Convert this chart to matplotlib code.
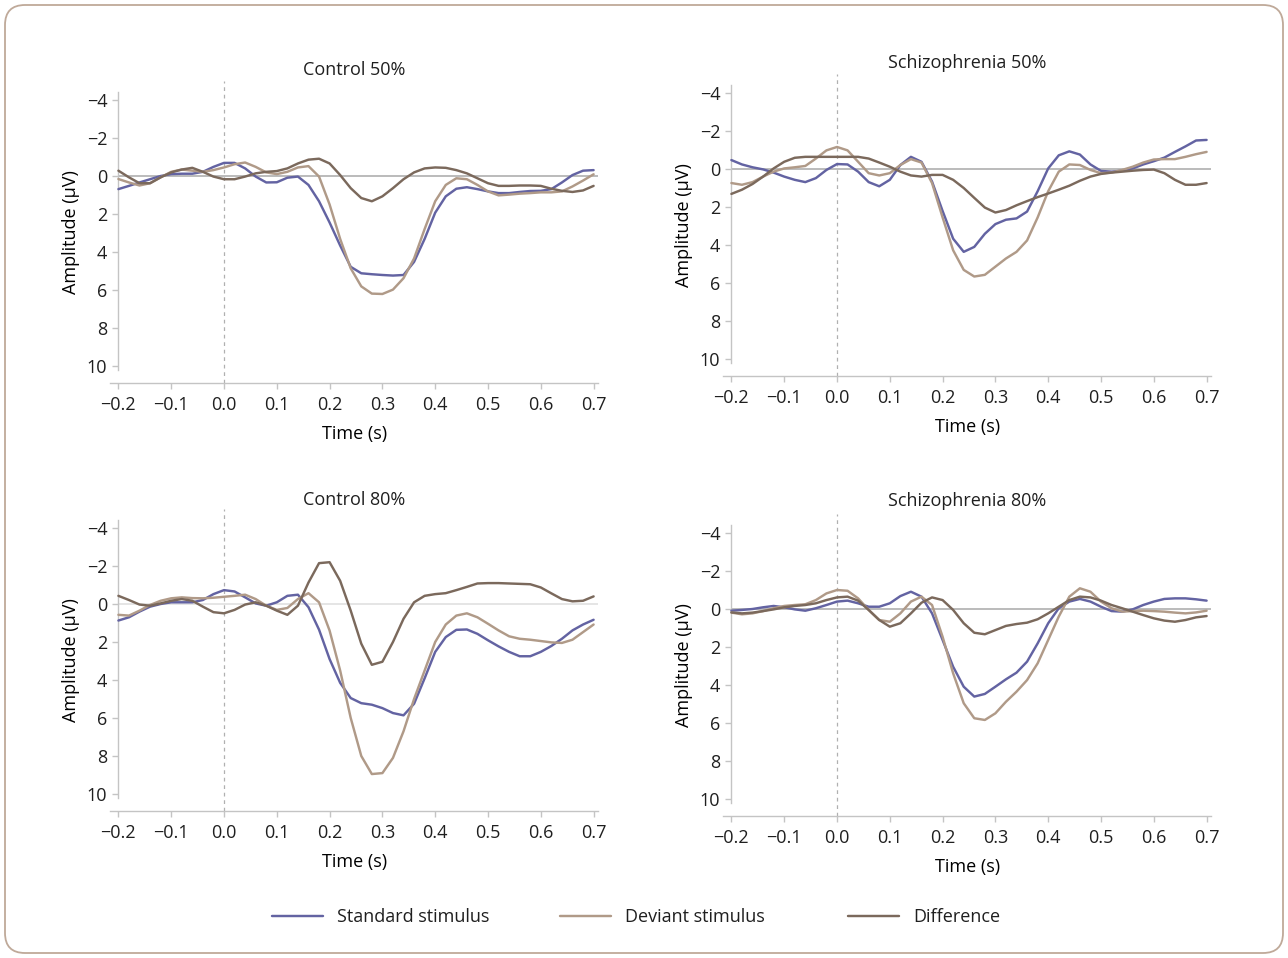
import numpy as np
import matplotlib
matplotlib.use("Agg")
import matplotlib.pyplot as plt
from matplotlib.patches import FancyBboxPatch

plt.rcParams['font.family'] = ['Open Sans', 'DejaVu Sans']
plt.rcParams['font.size'] = 13
plt.rcParams['text.color'] = '#1f1f1f'

# time axis, sampled every 20 ms
t = np.round(np.arange(-0.2, 0.7001, 0.02), 2)

series_names = ['Standard stimulus', 'Deviant stimulus', 'Difference']
colors = ['#6363a2', '#b09a88', '#7b695c']

# Control 50%
ctrl50_std = [0.69, 0.52, 0.34, 0.17, 0.0, -0.1, -0.12, -0.12, -0.22, -0.48,
              -0.69, -0.69, -0.4, 0.03, 0.34, 0.33, 0.09, 0.03, 0.47, 1.33,
              2.45, 3.66, 4.78, 5.12, 5.17, 5.21, 5.24, 5.21, 4.52, 3.31,
              1.93, 1.07, 0.67, 0.59, 0.69, 0.81, 0.9, 0.9, 0.84, 0.79,
              0.78, 0.69, 0.34, -0.05, -0.28, -0.31]
ctrl50_dev = [0.16, 0.34, 0.5, 0.38, 0.07, -0.22, -0.34, -0.28, -0.22, -0.31,
              -0.45, -0.62, -0.71, -0.48, -0.19, -0.1, -0.22, -0.45, -0.52, 0.03,
              1.5, 3.31, 4.86, 5.81, 6.19, 6.21, 5.98, 5.38, 4.34, 2.79,
              1.33, 0.47, 0.12, 0.17, 0.47, 0.81, 1.02, 0.98, 0.93, 0.9,
              0.86, 0.86, 0.81, 0.55, 0.24, -0.09]
ctrl50_diff = [-0.28, 0.07, 0.38, 0.38, 0.07, -0.19, -0.34, -0.43, -0.22, 0.03,
               0.17, 0.17, 0.03, -0.14, -0.22, -0.26, -0.4, -0.66, -0.86, -0.91,
               -0.66, -0.05, 0.64, 1.16, 1.33, 1.07, 0.64, 0.17, -0.19, -0.4,
               -0.45, -0.43, -0.31, -0.14, 0.12, 0.38, 0.52, 0.52, 0.5, 0.5,
               0.52, 0.67, 0.78, 0.84, 0.76, 0.52]

# Schizophrenia 50%
scz50_std = [-0.47, -0.24, -0.09, 0.02, 0.19, 0.4, 0.57, 0.69, 0.48, 0.05,
             -0.26, -0.24, 0.14, 0.69, 0.91, 0.57, -0.21, -0.64, -0.38, 0.66,
             2.21, 3.67, 4.36, 4.1, 3.41, 2.9, 2.67, 2.6, 2.24, 1.17,
             -0.03, -0.72, -0.93, -0.76, -0.24, 0.1, 0.14, 0.09, -0.03, -0.24,
             -0.41, -0.6, -0.9, -1.19, -1.5, -1.53]
scz50_dev = [0.74, 0.83, 0.69, 0.4, 0.14, -0.03, -0.09, -0.16, -0.55, -0.98,
             -1.16, -0.98, -0.38, 0.22, 0.34, 0.22, -0.21, -0.52, -0.34, 0.74,
             2.55, 4.28, 5.31, 5.66, 5.57, 5.14, 4.71, 4.36, 3.76, 2.55,
             1.17, 0.14, -0.24, -0.21, 0.05, 0.22, 0.19, 0.05, -0.12, -0.34,
             -0.5, -0.52, -0.52, -0.64, -0.78, -0.9]
scz50_diff = [1.31, 1.09, 0.79, 0.4, -0.03, -0.38, -0.59, -0.64, -0.64, -0.64,
              -0.64, -0.64, -0.64, -0.55, -0.34, -0.12, 0.14, 0.34, 0.4, 0.31,
              0.31, 0.57, 1.0, 1.52, 2.03, 2.29, 2.16, 1.91, 1.69, 1.48,
              1.29, 1.09, 0.88, 0.62, 0.4, 0.26, 0.19, 0.14, 0.09, 0.05,
              0.03, 0.22, 0.57, 0.83, 0.83, 0.74]

# Control 80%
ctrl80_std = [0.87, 0.7, 0.4, 0.14, 0.0, -0.09, -0.09, -0.09, -0.21, -0.52,
              -0.73, -0.66, -0.35, -0.03, 0.09, -0.09, -0.43, -0.49, 0.17, 1.35,
              2.9, 4.15, 4.95, 5.22, 5.3, 5.48, 5.74, 5.86, 5.25, 3.91,
              2.52, 1.74, 1.36, 1.34, 1.57, 1.91, 2.23, 2.52, 2.75, 2.75,
              2.52, 2.21, 1.83, 1.39, 1.08, 0.83]
ctrl80_dev = [0.57, 0.61, 0.35, 0.05, -0.17, -0.3, -0.35, -0.31, -0.3, -0.33,
              -0.38, -0.43, -0.49, -0.26, 0.09, 0.31, 0.21, -0.26, -0.57, -0.09,
              1.4, 3.5, 6.0, 8.0, 8.95, 8.9, 8.1, 6.7, 5.0, 3.5,
              2.0, 1.08, 0.61, 0.49, 0.7, 1.04, 1.39, 1.7, 1.83, 1.88,
              1.95, 2.02, 2.05, 1.88, 1.48, 1.08]
ctrl80_diff = [-0.43, -0.21, 0.03, 0.09, -0.03, -0.17, -0.26, -0.17, 0.14, 0.43,
               0.49, 0.31, 0.03, -0.09, 0.09, 0.35, 0.57, 0.09, -1.13, -2.15,
               -2.2, -1.22, 0.35, 2.09, 3.2, 3.04, 2.0, 0.78, -0.09, -0.43,
               -0.52, -0.57, -0.73, -0.9, -1.08, -1.1, -1.1, -1.08, -1.06, -1.04,
               -0.87, -0.56, -0.26, -0.14, -0.17, -0.4]

# Schizophrenia 80%
scz80_std = [0.09, 0.05, 0.0, -0.09, -0.16, -0.09, 0.02, 0.09, -0.04, -0.21,
             -0.39, -0.44, -0.3, -0.12, -0.12, -0.3, -0.68, -0.91, -0.65, 0.23,
             1.63, 3.04, 4.09, 4.61, 4.47, 4.09, 3.7, 3.35, 2.77, 1.81,
             0.75, -0.04, -0.39, -0.53, -0.39, -0.12, 0.11, 0.14, 0.02, -0.21,
             -0.39, -0.53, -0.56, -0.56, -0.51, -0.44]
scz80_dev = [0.19, 0.28, 0.23, 0.11, -0.04, -0.16, -0.21, -0.25, -0.47, -0.82,
             -1.0, -0.96, -0.56, 0.05, 0.58, 0.67, 0.23, -0.39, -0.65, -0.21,
             1.46, 3.39, 4.96, 5.75, 5.84, 5.49, 4.88, 4.35, 3.74, 2.86,
             1.63, 0.4, -0.65, -1.09, -0.91, -0.39, -0.04, 0.14, 0.11, 0.09,
             0.11, 0.14, 0.19, 0.23, 0.18, 0.09]
scz80_diff = [0.18, 0.23, 0.19, 0.11, 0.02, -0.09, -0.16, -0.21, -0.3, -0.47,
              -0.61, -0.65, -0.44, 0.05, 0.58, 0.93, 0.75, 0.23, -0.33, -0.61,
              -0.47, 0.05, 0.75, 1.25, 1.33, 1.11, 0.89, 0.79, 0.72, 0.54,
              0.23, -0.12, -0.47, -0.65, -0.61, -0.44, -0.21, -0.04, 0.14, 0.32,
              0.49, 0.61, 0.67, 0.58, 0.44, 0.37]

titles = ['Control 50%', 'Schizophrenia 50%', 'Control 80%', 'Schizophrenia 80%']
panel_data = [
    (ctrl50_std, ctrl50_dev, ctrl50_diff),
    (scz50_std, scz50_dev, scz50_diff),
    (ctrl80_std, ctrl80_dev, ctrl80_diff),
    (scz80_std, scz80_dev, scz80_diff),
]
yticks = [-4, -2, 0, 2, 4, 6, 8, 10]
xticks = [-0.2, -0.1, 0.0, 0.1, 0.2, 0.3, 0.4, 0.5, 0.6, 0.7]

# layout in pixels: x of t=0, y of 0 uV, title pad, zero-line colour
W, H = 1288, 958
layout = [(224, 176, 4.0, '#a8a8a8'),
          (837, 169, 4.0, '#a8a8a8'),
          (224, 604, 2.5, '#dedede'),
          (837, 609, 6.0, '#a8a8a8')]
xlim = (-0.215, 0.708)
ylim = (10.9, -5.0)
px_s = 528.0
px_uv = 19.0

fig = plt.figure(figsize=(W / 100, H / 100), dpi=100)

border = FancyBboxPatch((0.05, 0.05), W / 100 - 0.1, H / 100 - 0.1,
                        boxstyle='round,pad=0,rounding_size=0.2',
                        transform=fig.dpi_scale_trans, facecolor='white',
                        edgecolor='#bfa999', linewidth=1.3, zorder=-10)
fig.patches.append(border)

spine_col = '#c4c4c4'
fs = 13
lines = []
for i, (title, (t0, a0, tpad, zcol)) in enumerate(zip(titles, layout)):
    left = t0 + xlim[0] * px_s
    width = (xlim[1] - xlim[0]) * px_s
    top = a0 + ylim[1] * px_uv
    height = (ylim[0] - ylim[1]) * px_uv
    ax = fig.add_axes([left / W, 1 - (top + height) / H, width / W, height / H])
    ax.set_facecolor('none')

    ax.axvline(0, color='#b0b0b0', lw=0.9, ls=(0, (3, 3)), zorder=1)
    ax.hlines(0, -0.2, xlim[1], color=zcol, lw=1.1, zorder=1)

    lines = []
    for vals, col, name in zip(panel_data[i], colors, series_names):
        ln, = ax.plot(t, vals, color=col, lw=1.75, label=name, zorder=3,
                      solid_joinstyle='round', solid_capstyle='round')
        lines.append(ln)

    ax.set_xlim(*xlim)
    ax.set_ylim(*ylim)
    ax.set_xticks(xticks)
    ax.set_xticklabels([f'{v:.1f}'.replace('-', '\u2212') for v in xticks])
    ax.set_yticks(yticks)
    ax.set_yticklabels([str(v).replace('-', '\u2212') for v in yticks])

    for s in ['top', 'right']:
        ax.spines[s].set_visible(False)
    ax.spines['left'].set_position(('data', -0.2))
    ax.spines['left'].set_bounds(-4.4, 10.2)
    for s in ['left', 'bottom']:
        ax.spines[s].set_color(spine_col)
        ax.spines[s].set_linewidth(1.0)
    ax.tick_params(axis='both', colors=spine_col, labelcolor='#1f1f1f',
                   length=4, width=1.0, labelsize=fs)
    ax.tick_params(axis='x', pad=5)
    ax.tick_params(axis='y', pad=4)

    ax.set_xlabel('Time (s)', fontsize=fs, labelpad=8)
    ax.set_ylabel('Amplitude (\u00b5V)', fontsize=fs, labelpad=5)
    ax.set_title(title, fontsize=fs, pad=tpad)

# legend: three fixed-width items along the bottom
leg_x = [272, 560, 848]
for ln, x in zip(lines, leg_x):
    fig.legend(handles=[ln], loc='center left',
               bbox_to_anchor=(x / W, 1 - 917 / H), frameon=False,
               fontsize=fs, handlelength=2.85, handletextpad=0.75,
               borderpad=0, borderaxespad=0)

fig.savefig('out.png', dpi=100)
